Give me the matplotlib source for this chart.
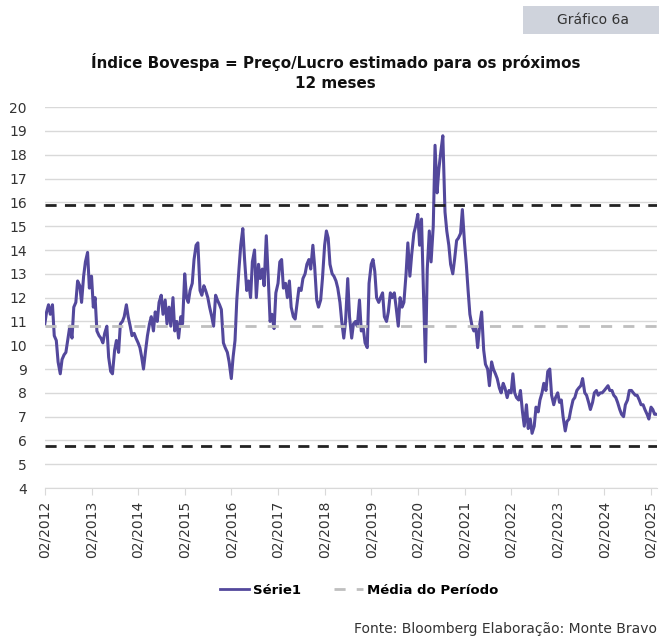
import matplotlib
matplotlib.use("Agg")
import matplotlib.pyplot as plt
import matplotlib.dates as mdates
import numpy as np
import pandas as pd
from matplotlib.lines import Line2D
from matplotlib.patches import Rectangle


# P/L estimado 12m, leitura quinzenal (dia 1 e 15) a partir de 02/2012
pl_2012 = [10.9, 11.4, 11.7, 11.3, 11.7, 10.4, 10.2, 9.3, 8.8, 9.4, 9.6, 9.7,
           10.3, 10.8, 10.3, 11.6, 11.8, 12.7, 12.5, 11.8, 12.9, 13.5, 13.9, 12.4]
pl_2013 = [12.9, 11.6, 12.0, 10.6, 10.4, 10.3, 10.1, 10.5, 10.8, 9.5, 8.9, 8.8,
           9.8, 10.2, 9.7, 10.9, 11.0, 11.2, 11.7, 11.2, 10.8, 10.4, 10.5, 10.3]
pl_2014 = [10.1, 9.9, 9.5, 9.0, 9.8, 10.4, 10.9, 11.2, 10.6, 11.4, 11.0, 11.8,
           12.1, 11.3, 11.9, 10.9, 11.6, 10.8, 12.0, 10.6, 11.0, 10.3, 11.2, 10.9]
pl_2015 = [13.0, 12.0, 11.8, 12.3, 12.6, 13.6, 14.2, 14.3, 12.3, 12.1, 12.5, 12.3,
           12.0, 11.6, 11.2, 10.8, 12.1, 11.9, 11.7, 11.5, 10.1, 9.9, 9.7, 9.3]
pl_2016 = [8.6, 9.5, 10.2, 11.9, 13.2, 14.2, 14.9, 13.6, 12.3, 12.7, 12.0, 13.5,
           14.0, 12.0, 13.4, 12.8, 13.2, 12.5, 14.6, 13.0, 11.0, 11.3, 10.7, 12.2]
pl_2017 = [12.6, 13.5, 13.6, 12.4, 12.6, 12.0, 12.7, 11.6, 11.2, 11.1, 11.8, 12.4,
           12.3, 12.8, 13.0, 13.4, 13.6, 13.2, 14.2, 13.3, 11.9, 11.6, 11.9, 12.8]
pl_2018 = [14.2, 14.8, 14.5, 13.4, 13.0, 12.9, 12.7, 12.4, 11.8, 11.0, 10.3, 11.0,
           12.8, 11.2, 10.3, 10.9, 11.0, 10.8, 11.9, 10.6, 10.7, 10.1, 9.9, 12.6]
pl_2019 = [13.4, 13.6, 13.1, 12.0, 11.8, 12.0, 12.2, 11.2, 11.0, 11.4, 12.2, 12.0,
           12.2, 11.6, 10.8, 12.0, 11.6, 11.8, 13.0, 14.3, 12.9, 13.8, 14.7, 15.0]
pl_2020 = [15.5, 14.2, 15.3, 12.5, 9.3, 13.2, 14.8, 13.5, 15.0, 18.4, 16.4, 17.4,
           18.2, 18.8, 15.6, 14.8, 14.2, 13.4, 13.0, 13.6, 14.4, 14.5, 14.7, 15.7]
pl_2021 = [14.3, 13.4, 12.3, 11.3, 10.8, 10.6, 10.7, 9.9, 10.9, 11.4, 9.8, 9.2,
           9.0, 8.3, 9.3, 9.0, 8.8, 8.6, 8.2, 8.0, 8.4, 8.2, 7.8, 8.1]
pl_2022 = [8.0, 8.8, 8.0, 7.8, 7.7, 8.1, 7.2, 6.6, 7.5, 6.5, 6.9, 6.3,
           6.6, 7.4, 7.2, 7.7, 8.0, 8.4, 8.1, 8.9, 9.0, 7.9, 7.5, 7.8]
pl_2023 = [8.0, 7.6, 7.7, 7.0, 6.4, 6.8, 6.9, 7.3, 7.7, 7.8, 8.1, 8.2,
           8.3, 8.6, 8.0, 7.9, 7.6, 7.3, 7.6, 8.0, 8.1, 7.9, 8.0, 8.0]
pl_2024 = [8.1, 8.2, 8.3, 8.1, 8.1, 7.9, 7.8, 7.6, 7.3, 7.1, 7.0, 7.5,
           7.7, 8.1, 8.1, 8.0, 7.9, 7.9, 7.7, 7.5, 7.5, 7.3, 7.1, 6.9]
pl_2025 = [7.4, 7.3, 7.1, 7.1]

media_periodo = 10.82
banda_sup = 15.88
banda_inf = 5.76

titulo = "Índice Bovespa = Preço/Lucro estimado para os próximos\n12 meses"
fonte = "Fonte: Bloomberg Elaboração: Monte Bravo"

ROXO = "#53489c"
CINZA_GRADE = "#d9d9d9"
CINZA_MEDIA = "#bfbfbf"
TEXTO = "#333333"

values = pl_2012 + pl_2013 + pl_2014 + pl_2015 + pl_2016 + pl_2017 + pl_2018 + \
    pl_2019 + pl_2020 + pl_2021 + pl_2022 + pl_2023 + pl_2024 + pl_2025
dates = pd.date_range("2012-02-01", periods=len(values), freq="SMS")

plt.rcParams["font.family"] = ["DejaVu Sans"]

fig = plt.figure(figsize=(6.59, 6.38), dpi=100)
ax = fig.add_axes([0.068, 0.235, 0.929, 0.597])

ax.plot(dates, values, color=ROXO, linewidth=2.2, zorder=3)
ax.axhline(media_periodo, color=CINZA_MEDIA, linewidth=2.0, linestyle=(0, (4, 4)), zorder=4)
ax.axhline(banda_sup, color="#222222", linewidth=2.0, linestyle=(0, (4, 3)), zorder=4)
ax.axhline(banda_inf, color="#222222", linewidth=2.0, linestyle=(0, (4, 3)), zorder=4)

ax.set_ylim(4, 20)
ax.set_yticks(np.arange(4, 21, 1))
ax.set_xlim(pd.Timestamp("2012-02-01"), pd.Timestamp("2025-03-20"))
ax.set_xticks(pd.date_range("2012-02-01", "2025-02-01", freq="12MS"))
ax.xaxis.set_major_formatter(mdates.DateFormatter("%m/%Y"))
ax.grid(axis="y", color=CINZA_GRADE, linewidth=1.0, zorder=0)
ax.set_axisbelow(True)
for side in ["top", "right", "left"]:
    ax.spines[side].set_visible(False)
ax.spines["bottom"].set_color(CINZA_GRADE)
ax.tick_params(axis="y", length=0, pad=13, labelsize=10, labelcolor=TEXTO)
ax.tick_params(axis="x", length=5, color=CINZA_GRADE, pad=4, labelsize=10,
               labelcolor=TEXTO, labelrotation=90)

fig.text(0.509, 0.887, titulo, ha="center", va="center", fontsize=10.9,
         fontweight="bold", color="#111111", linespacing=1.45)

fig.patches.append(Rectangle((0.794, 0.947), 0.21, 0.044, transform=fig.transFigure,
                             facecolor="#cfd3dc", edgecolor="none"))
fig.text(0.9, 0.969, "Gráfico 6a", ha="center", va="center", fontsize=10, color=TEXTO)

handles = [Line2D([], [], color=ROXO, linewidth=2.0),
           Line2D([], [], color=CINZA_MEDIA, linewidth=2.0, linestyle=(0, (4, 4)))]
fig.legend(handles, ["Série1", "Média do Período"], loc="center", bbox_to_anchor=(0.545, 0.075),
           ncol=2, frameon=False, handlelength=2.2, handletextpad=0.3, columnspacing=2.5,
           prop={"weight": "bold", "size": 9.5})

fig.text(0.997, 0.014, fonte, ha="right", va="center", fontsize=10, color=TEXTO)

fig.savefig("out.png", dpi=100)
plt.close(fig)
